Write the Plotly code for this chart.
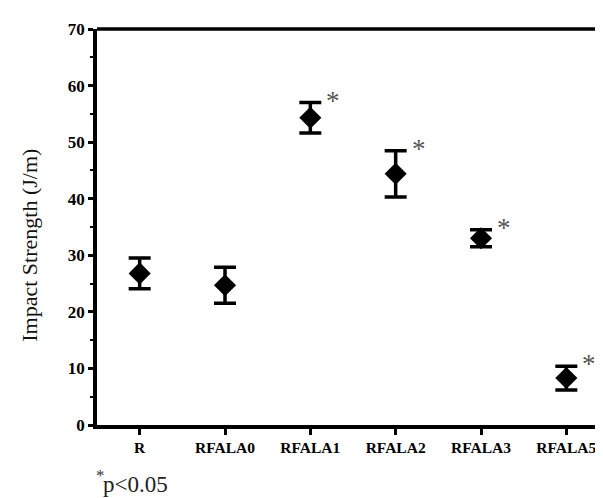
import plotly.graph_objects as go

categories = ["R", "RFALA0", "RFALA1", "RFALA2", "RFALA3", "RFALA5"]
means = [26.8, 24.7, 54.3, 44.4, 33.0, 8.3]
errors = [2.7, 3.2, 2.7, 4.1, 1.5, 2.1]
significant = [False, False, True, True, True, True]
y_ticks = [0, 10, 20, 30, 40, 50, 60, 70]

SERIF = "Liberation Serif"

fig = go.Figure()
fig.add_trace(go.Scatter(
    x=list(range(len(categories))), y=means, mode="markers",
    marker=dict(symbol="diamond", size=17, color="black"),
    error_y=dict(type="data", array=errors, visible=True, color="black",
                 thickness=3.5, width=11),
    showlegend=False,
))

for i, (m, e, s) in enumerate(zip(means, errors, significant)):
    if s:
        fig.add_annotation(x=i + 0.27, y=m + e, text="*", showarrow=False,
                           xanchor="center", yanchor="middle", yshift=2,
                           font=dict(family=SERIF, size=27, color="#555555"))

# footnote: small raised asterisk followed by p<0.05
fig.add_annotation(xref="paper", yref="paper", x=-0.006, y=-0.127,
                   text="*", showarrow=False, xanchor="left", yanchor="middle",
                   font=dict(family=SERIF, size=17, color="#333333"))
fig.add_annotation(xref="paper", yref="paper", x=0.008, y=-0.149,
                   text="p&lt;0.05", showarrow=False, xanchor="left", yanchor="middle",
                   font=dict(family=SERIF, size=23, color="#222222"))

fig.add_annotation(xref="paper", yref="paper", x=-0.131, y=0.455,
                   text="Impact Strength (J/m)", textangle=-90, showarrow=False,
                   xanchor="center", yanchor="middle",
                   font=dict(family=SERIF, size=22, color="#111111"))

# top border (thick) and right border (thin)
fig.add_shape(type="line", xref="paper", yref="paper", x0=0, x1=1, y0=1, y1=1,
              line=dict(color="black", width=3.5))
fig.add_shape(type="line", xref="paper", yref="paper", x0=1, x1=1, y0=0, y1=1,
              line=dict(color="#777777", width=1))

fig.update_layout(
    width=603, height=498,
    margin=dict(l=89, r=2, t=21, b=81),
    plot_bgcolor="white", paper_bgcolor="white",
    font=dict(family=SERIF, color="black"),
)
fig.update_xaxes(
    range=[-0.5, 5.5], tickmode="array", tickvals=list(range(len(categories))),
    ticktext=["<b>%s</b>" % c for c in categories],
    tickfont=dict(family=SERIF, size=15.5, color="black"),
    showline=True, linecolor="black", linewidth=3.5,
    ticks="outside", ticklen=6, tickwidth=2.5, tickcolor="black",
    showgrid=False, zeroline=False,
)
fig.update_yaxes(
    range=[0, 70], tickmode="array", tickvals=y_ticks,
    ticktext=["<b>%d</b>" % v for v in y_ticks],
    tickfont=dict(family=SERIF, size=17, color="black"),
    showline=True, linecolor="black", linewidth=3.5,
    ticks="outside", ticklen=5, tickwidth=2.5, tickcolor="black",
    minor=dict(dtick=5, tick0=0, ticks="outside", ticklen=3, tickwidth=1.5, tickcolor="black"),
    showgrid=False, zeroline=False,
)

fig.write_html("out.html")
